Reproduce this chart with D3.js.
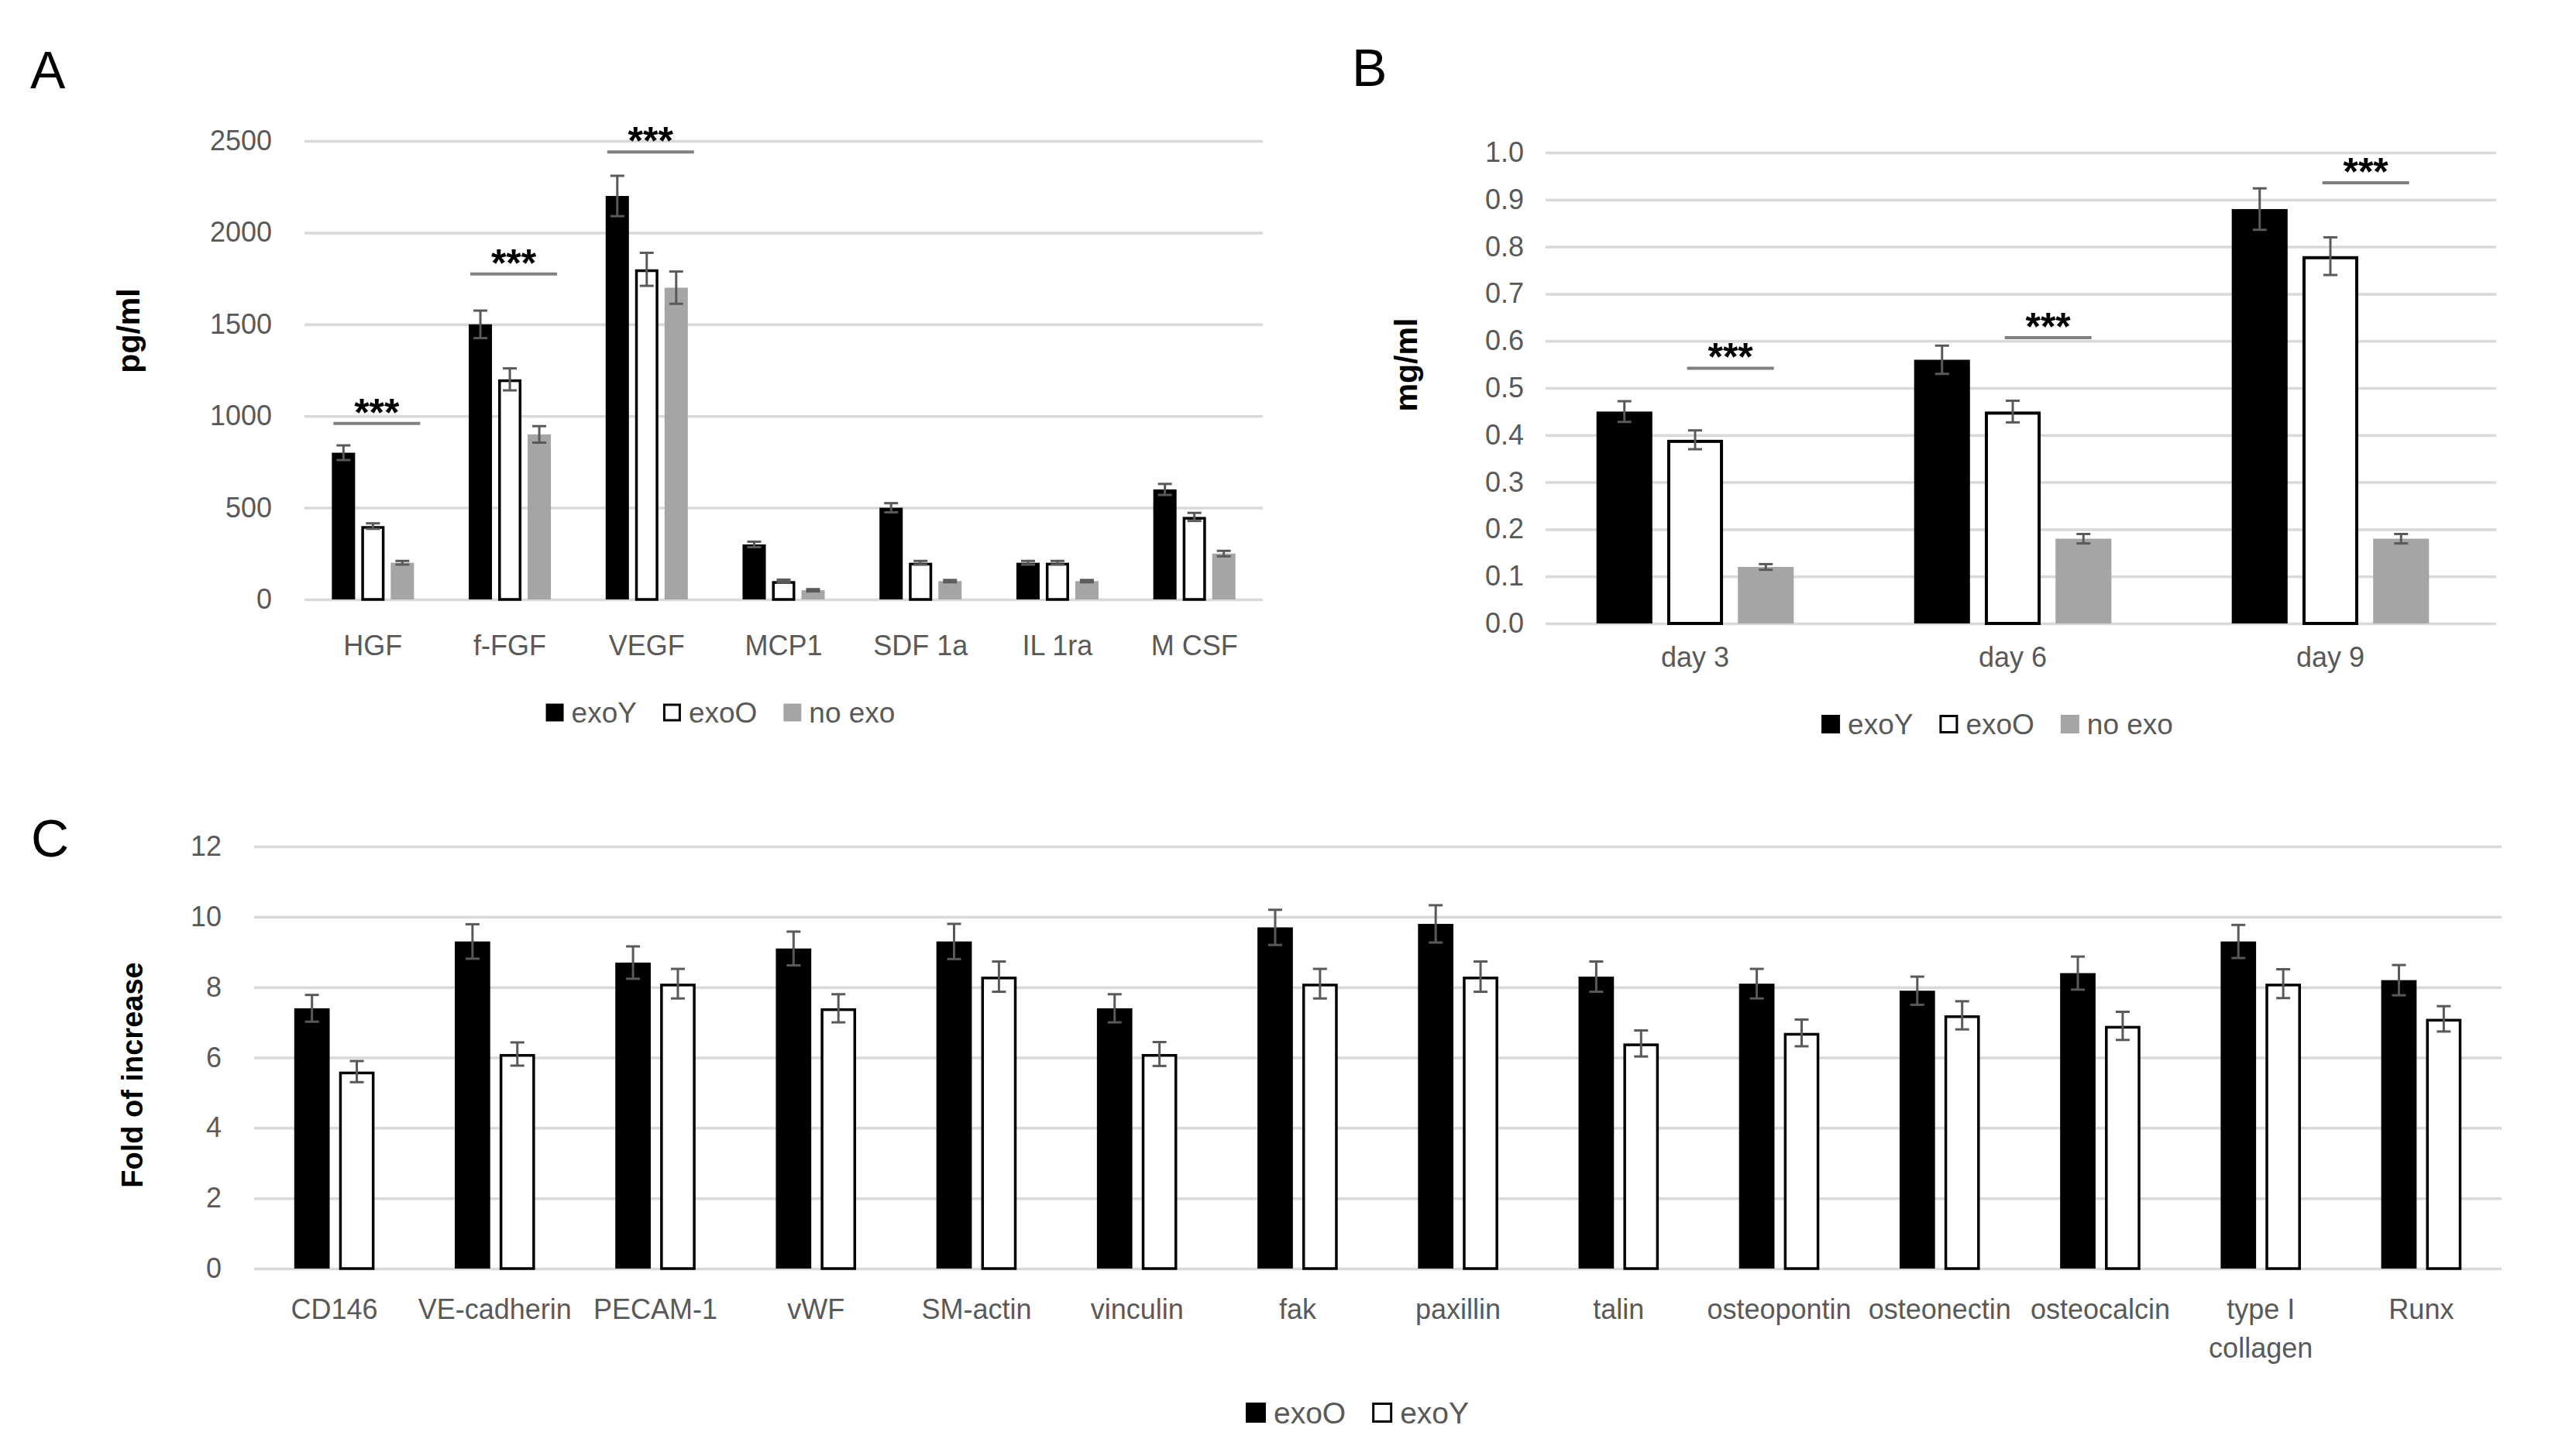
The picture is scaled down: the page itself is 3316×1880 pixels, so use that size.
<!DOCTYPE html>
<html>
<head>
<meta charset="utf-8">
<script src="https://cdn.jsdelivr.net/npm/d3@7"></script>
<style>
  html, body { margin: 0; padding: 0; background: #fff; }
  svg { display: block; font-family: "Liberation Sans", Arial, sans-serif; }
</style>
</head>
<body>
<script>
// ---------------- DATA ----------------
// Panel A
const catsA = ["HGF", "f-FGF", "VEGF", "MCP1", "SDF 1a", "IL 1ra", "M CSF"];
const exoY_A = [800, 1500, 2200, 300, 500, 200, 600];
const exoO_A = [400, 1200, 1800, 100, 200, 200, 450];
const noexo_A = [200, 900, 1700, 50, 100, 100, 250];
const errY_A = [40, 75, 110, 15, 25, 10, 30];
const errO_A = [15, 60, 90, 8, 10, 10, 22];
const errN_A = [10, 45, 88, 6, 6, 6, 15];
const ticksA = [0, 500, 1000, 1500, 2000, 2500];
const sigCatsA = ["HGF", "f-FGF", "VEGF"];
const sigValsA = [960, 1775, 2440];

// Panel B
const catsB = ["day 3", "day 6", "day 9"];
const exoY_B = [0.45, 0.56, 0.88];
const exoO_B = [0.39, 0.45, 0.78];
const noexo_B = [0.12, 0.18, 0.18];
const errY_B = [0.022, 0.03, 0.044];
const errO_B = [0.02, 0.023, 0.04];
const errN_B = [0.006, 0.01, 0.01];
const ticksB = [0.0, 0.1, 0.2, 0.3, 0.4, 0.5, 0.6, 0.7, 0.8, 0.9, 1.0];
const sigCatsB = ["day 3", "day 6", "day 9"];
const sigValsB = [0.542, 0.607, 0.936];

// Panel C
const catsC = ["CD146", "VE-cadherin", "PECAM-1", "vWF", "SM-actin", "vinculin", "fak",
  "paxillin", "talin", "osteopontin", "osteonectin", "osteocalcin", "type I collagen", "Runx"];
const exoO_C = [7.4, 9.3, 8.7, 9.1, 9.3, 7.4, 9.7, 9.8, 8.3, 8.1, 7.9, 8.4, 9.3, 8.2];
const exoY_C = [5.6, 6.1, 8.1, 7.4, 8.3, 6.1, 8.1, 8.3, 6.4, 6.7, 7.2, 6.9, 8.1, 7.1];
const errO_C = [0.38, 0.49, 0.46, 0.48, 0.5, 0.4, 0.5, 0.53, 0.43, 0.42, 0.4, 0.47, 0.47, 0.43];
const errY_C = [0.3, 0.33, 0.42, 0.4, 0.43, 0.34, 0.42, 0.43, 0.37, 0.38, 0.4, 0.4, 0.41, 0.36];
const ticksC = [0, 2, 4, 6, 8, 10, 12];

// ---------------- DRAWING ----------------
const BLACK = "#000000", GRAY = "#a5a5a5", TXT = "#595959", GRID = "#d9d9d9", ERR = "#595959";

const svg = d3.select("body").append("svg")
  .attr("width", 3316).attr("height", 1880)
  .attr("viewBox", "0 0 3316 1880");
svg.append("rect").attr("width", 3316).attr("height", 1880).attr("fill", "#fff");

function drawPanel(o) {
  const g = svg.append("g");
  const y = d3.scaleLinear().domain(o.yDomain).range(o.yRange);
  const x0 = d3.scaleBand().domain(o.cats).range(o.bandRange)
    .paddingInner(o.bandPad).paddingOuter(o.bandPad / 2);
  const x1 = d3.scaleBand().domain(o.series.map(s => s.name))
    .range([0, x0.bandwidth()]).paddingInner(o.barPad);

  // gridlines + y tick labels
  const axis = d3.axisLeft(y).tickValues(o.ticks)
    .tickSize(-(o.gridX[1] - o.gridX[0]))
    .tickPadding(o.gridX[0] - o.tickX)
    .tickFormat(o.fmt);
  const ax = g.append("g").attr("transform", `translate(${o.gridX[0]},0)`).call(axis);
  ax.select(".domain").remove();
  ax.selectAll(".tick line").attr("stroke", GRID).attr("stroke-width", 3.5);
  ax.selectAll(".tick text").attr("fill", TXT).attr("font-size", o.tickFont)
    .attr("font-family", '"Liberation Sans", Arial, sans-serif');

  // bars
  o.series.forEach(s => {
    const sg = g.append("g");
    const data = o.cats.map((c, i) => ({ c, v: s.values[i], e: s.errs[i] }));
    sg.selectAll("rect").data(data).join("rect")
      .attr("x", d => x0(d.c) + x1(s.name) + (s.stroke ? s.strokeW / 2 : 0))
      .attr("y", d => y(d.v) + (s.stroke ? s.strokeW / 2 : 0))
      .attr("width", x1.bandwidth() - (s.stroke ? s.strokeW : 0))
      .attr("height", d => y(0) - y(d.v) - (s.stroke ? s.strokeW / 2 : 0))
      .attr("fill", s.fill)
      .attr("stroke", s.stroke || "none")
      .attr("stroke-width", s.stroke ? s.strokeW : 0);
    // error bars
    const eg = g.append("g").attr("stroke", ERR).attr("stroke-width", 3).attr("fill", "none");
    data.forEach(d => {
      const cx = x0(d.c) + x1(s.name) + x1.bandwidth() / 2;
      const y1 = y(d.v + d.e), y2 = y(d.v - d.e);
      eg.append("line").attr("x1", cx).attr("x2", cx).attr("y1", y1).attr("y2", y2);
      eg.append("line").attr("x1", cx - 9).attr("x2", cx + 9).attr("y1", y1).attr("y2", y1);
      eg.append("line").attr("x1", cx - 9).attr("x2", cx + 9).attr("y1", y2).attr("y2", y2);
    });
  });

  // significance lines
  if (o.sig) {
    const sg = g.append("g");
    o.sig.cats.forEach((c, i) => {
      const a = x0(c) + x1(o.series[o.sig.from].name) + x1.bandwidth() / 2;
      const b = x0(c) + x1(o.series[o.sig.to].name) + x1.bandwidth() / 2;
      const mid = (a + b) / 2 + o.sig.shift;
      const ly = y(o.sig.values[i]);
      sg.append("line").attr("x1", mid - 56).attr("x2", mid + 56)
        .attr("y1", ly).attr("y2", ly).attr("stroke", "#808080").attr("stroke-width", 4);
      sg.append("text").attr("x", mid).attr("y", ly + 3)
        .attr("text-anchor", "middle").attr("font-size", 50).attr("font-weight", "bold")
        .attr("fill", "#000").text("***");
    });
  }

  // category labels (with wrapping)
  const lab = g.append("g").attr("font-size", o.catFont).attr("fill", TXT).attr("text-anchor", "middle");
  o.cats.forEach(c => {
    const cx = x0(c) + x0.bandwidth() / 2;
    const t = lab.append("text").attr("x", cx).attr("y", o.catY);
    const words = c.split(" ");
    let line = [], lines = [];
    const probe = lab.append("text").attr("visibility", "hidden");
    words.forEach(w => {
      const test = line.concat([w]).join(" ");
      probe.text(test);
      if (probe.node().getComputedTextLength() > x0.step() - 6 && line.length) {
        lines.push(line.join(" "));
        line = [w];
      } else line.push(w);
    });
    lines.push(line.join(" "));
    probe.remove();
    lines.forEach((l, k) => {
      t.append("tspan").attr("x", cx).attr("y", o.catY + k * o.catLine).text(l);
    });
  });

  // y title
  g.append("text")
    .attr("transform", `translate(${o.titleX},${o.titleY}) rotate(-90)`)
    .attr("text-anchor", "middle").attr("font-size", o.titleFont).attr("font-weight", "bold")
    .attr("fill", "#000").text(o.title);

  // panel letter
  g.append("text").attr("x", o.letterX).attr("y", o.letterY)
    .attr("font-size", 68).attr("fill", "#000").text(o.letter);

  // legend
  const lg = g.append("g");
  let x = 0;
  const items = [];
  o.series.forEach(s => {
    const it = lg.append("g");
    it.append("rect").attr("x", x + (s.stroke ? 1.5 : 0)).attr("y", o.legendY - o.sq / 2 + (s.stroke ? 1.5 : 0))
      .attr("width", o.sq - (s.stroke ? 3 : 0)).attr("height", o.sq - (s.stroke ? 3 : 0))
      .attr("fill", s.fill).attr("stroke", s.stroke || "none").attr("stroke-width", s.stroke ? 3 : 0);
    const tx = it.append("text").attr("x", x + o.sq + 10).attr("y", o.legendY)
      .attr("dy", "0.36em").attr("font-size", o.legendFont).attr("fill", TXT).text(s.name);
    x += o.sq + 10 + tx.node().getComputedTextLength() + 34;
  });
  const totalW = x - 34;
  lg.attr("transform", `translate(${o.legendCX - totalW / 2},0)`);
}

// Panel A
drawPanel({
  cats: catsA,
  series: [
    { name: "exoY", values: exoY_A, errs: errY_A, fill: BLACK },
    { name: "exoO", values: exoO_A, errs: errO_A, fill: "#fff", stroke: "#000", strokeW: 3.5 },
    { name: "no exo", values: noexo_A, errs: errN_A, fill: GRAY }
  ],
  yDomain: [0, 2500], yRange: [774, 182], ticks: ticksA, fmt: d3.format("d"),
  gridX: [393, 1630], tickX: 351, tickFont: 36,
  bandRange: [393, 1630], bandPad: 0.4, barPad: 0.21,
  catY: 846, catFont: 36, catLine: 50,
  title: "pg/ml", titleX: 180, titleY: 427, titleFont: 41,
  letter: "A", letterX: 39, letterY: 114,
  legendCX: 930, legendY: 920, sq: 23, legendFont: 37,
  sig: { cats: sigCatsA, values: sigValsA, from: 0, to: 2, shift: 5 }
});

// Panel B
drawPanel({
  cats: catsB,
  series: [
    { name: "exoY", values: exoY_B, errs: errY_B, fill: BLACK },
    { name: "exoO", values: exoO_B, errs: errO_B, fill: "#fff", stroke: "#000", strokeW: 4 },
    { name: "no exo", values: noexo_B, errs: errN_B, fill: GRAY }
  ],
  yDomain: [0, 1], yRange: [805, 197], ticks: ticksB, fmt: d3.format(".1f"),
  gridX: [1995, 3222], tickX: 1967, tickFont: 36,
  bandRange: [1983, 3213], bandPad: 0.379, barPad: 0.21,
  catY: 861, catFont: 36, catLine: 50,
  title: "mg/ml", titleX: 1829, titleY: 471, titleFont: 41,
  letter: "B", letterX: 1745, letterY: 111,
  legendCX: 2578, legendY: 935, sq: 24, legendFont: 37,
  sig: { cats: sigCatsB, values: sigValsB, from: 1, to: 2, shift: 0 }
});

// Panel C
drawPanel({
  cats: catsC,
  series: [
    { name: "exoO", values: exoO_C, errs: errO_C, fill: BLACK },
    { name: "exoY", values: exoY_C, errs: errY_C, fill: "#fff", stroke: "#000", strokeW: 3.5 }
  ],
  yDomain: [0, 12], yRange: [1638, 1093], ticks: ticksC, fmt: d3.format("d"),
  gridX: [328, 3229], tickX: 286, tickFont: 36,
  bandRange: [328, 3229], bandPad: 0.5, barPad: 0.21,
  catY: 1703, catFont: 36, catLine: 50,
  title: "Fold of increase", titleX: 184, titleY: 1388, titleFont: 38,
  letter: "C", letterX: 40, letterY: 1106,
  legendCX: 1752, legendY: 1824, sq: 26, legendFont: 39,
  sig: null
});
</script>
</body>
</html>
